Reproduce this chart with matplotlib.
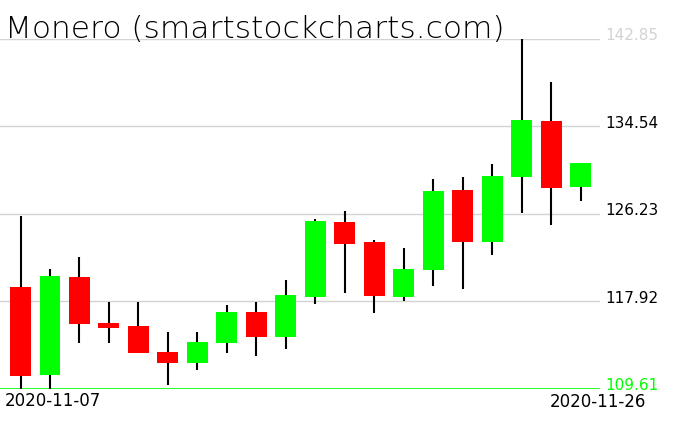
import numpy as np
import pandas as pd
import matplotlib
matplotlib.use('Agg')
import matplotlib.pyplot as plt

# daily candles
dates = pd.date_range('2020-11-07', '2020-11-26').strftime('%Y-%m-%d').tolist()
opens = [119.30, 110.97, 120.25, 115.88, 115.59, 113.13, 112.11, 114.01, 116.92, 114.58,
         118.38, 125.47, 123.57, 118.38, 120.91, 128.51, 123.60, 129.77, 135.06, 128.82]
highs = [126.07, 121.01, 122.12, 117.87, 117.87, 115.00, 115.00, 117.56, 117.87, 119.96,
         125.75, 126.52, 123.73, 123.00, 129.55, 129.74, 130.98, 142.85, 138.80, 131.10]
lows = [109.61, 109.61, 114.01, 114.01, 113.00, 110.02, 111.44, 113.06, 112.77, 113.44,
        117.71, 118.76, 116.86, 118.00, 119.42, 119.14, 122.37, 126.30, 125.16, 127.49]
closes = [110.87, 120.34, 115.81, 115.43, 113.06, 112.11, 114.08, 116.92, 114.58, 118.54,
          125.57, 123.41, 118.47, 121.01, 128.42, 123.60, 129.84, 135.16, 128.73, 131.07]
levels = [109.61, 117.92, 126.23, 134.54, 142.85]

W, H = 676, 431
fig = plt.figure(figsize=(W / 100, H / 100), dpi=100)
ax = fig.add_axes([0, (H - 390) / H, 600 / W, 350 / H])
ax.set_xlim(-0.696, 19.66)
ax.set_ylim(levels[0], levels[-1])
ax.axis('off')

for lv in levels[1:]:
    ax.axhline(lv, color='#d3d3d3', lw=1, zorder=0)
ax.axhline(levels[0], color='#00ff00', lw=1.2, zorder=0)

x = np.arange(len(dates))
for i in x:
    o, h, l, c = opens[i], highs[i], lows[i], closes[i]
    col = '#00ff00' if c >= o else '#ff0000'
    ax.vlines(i, l, h, color='black', lw=1.5, zorder=1, clip_on=False)
    ax.bar(i, abs(c - o), bottom=min(o, c), width=0.71, color=col, zorder=2)

for lv in levels:
    col = '#00ff00' if lv == levels[0] else ('#d3d3d3' if lv == levels[-1] else 'black')
    ax.text(605 / 600, lv + 0.4, f'{lv:.2f}', transform=ax.get_yaxis_transform(),
            fontsize=11, color=col, ha='left', va='center', clip_on=False)

fig.text(5 / W, 1 - 38 / H, 'Monero (smartstockcharts.com)', fontsize=22.5,
         fontweight='light', ha='left', va='baseline')
fig.text(5 / W, 1 - 401 / H, dates[0], fontsize=12, ha='left', va='center')
fig.text(646 / W, 1 - 402 / H, dates[-1], fontsize=12, ha='right', va='center')

plt.savefig('out.png', dpi=100)
